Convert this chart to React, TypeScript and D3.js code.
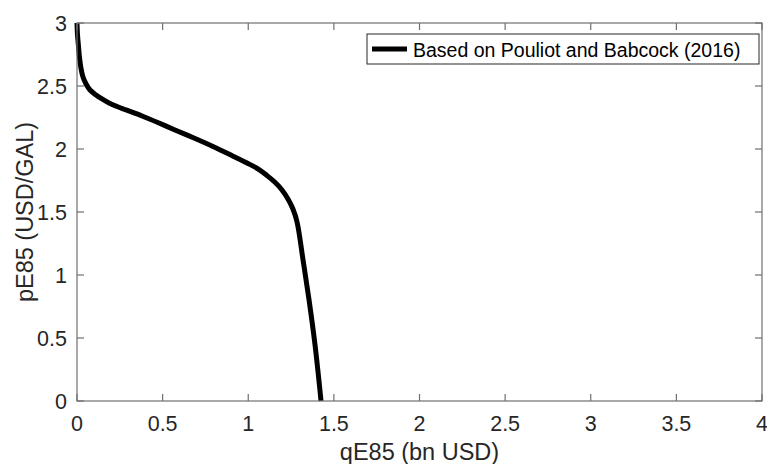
import React from "react";
import * as d3 from "d3";

const priceValues = [3.0, 2.905, 2.825, 2.746, 2.643, 2.571, 2.516, 2.468, 2.429, 2.397, 2.365, 2.337, 2.31, 2.262, 2.206, 2.151, 2.087, 2.02, 1.956, 1.889, 1.837, 1.79, 1.736, 1.675, 1.603, 1.524, 1.421, 1.119, 0.802, 0.444, 0.0];
const quantityValues = [0.0, 0.003, 0.008, 0.013, 0.023, 0.035, 0.053, 0.076, 0.111, 0.146, 0.187, 0.234, 0.286, 0.38, 0.479, 0.572, 0.683, 0.794, 0.893, 0.993, 1.063, 1.109, 1.156, 1.197, 1.232, 1.261, 1.285, 1.32, 1.355, 1.39, 1.425];
const xTicks = [0, 0.5, 1, 1.5, 2, 2.5, 3, 3.5, 4];
const yTicks = [0, 0.5, 1, 1.5, 2, 2.5, 3];
const seriesName = "Based on Pouliot and Babcock (2016)";

const W = 767, H = 464;
const M = { left: 77, right: 762, top: 23, bottom: 401 };
const FONT = "'Liberation Sans', Arial, Helvetica, sans-serif";

export default function App() {
  const x = d3.scaleLinear().domain([0, 4]).range([M.left, M.right]);
  const y = d3.scaleLinear().domain([0, 3]).range([M.bottom, M.top]);
  const pts: [number, number][] = quantityValues.map((q, i) => [q, priceValues[i]]);
  const line = d3.line<[number, number]>().x(d => x(d[0])).y(d => y(d[1])).curve(d3.curveCatmullRom.alpha(0.5));
  const axisColor = "#707070";
  const textColor = "#262626";
  const tl = 7;
  return (
    <svg width={W} height={H} style={{ position: "absolute", left: 0, top: 0, background: "#fff" }} fontFamily={FONT}>
      <rect x={0} y={0} width={W} height={H} fill="#fff" />
      <path d={line(pts) || ""} fill="none" stroke="#000" strokeWidth={5} strokeLinejoin="round" />
      <rect x={M.left} y={M.top} width={M.right - M.left} height={M.bottom - M.top} fill="none" stroke={axisColor} strokeWidth={1.2} />
      {xTicks.map(t => (
        <g key={"x" + t}>
          <line x1={x(t)} x2={x(t)} y1={M.bottom} y2={M.bottom - tl} stroke={axisColor} strokeWidth={1.2} />
          <line x1={x(t)} x2={x(t)} y1={M.top} y2={M.top + tl} stroke={axisColor} strokeWidth={1.2} />
          <text x={x(t)} y={431} textAnchor="middle" fontSize={21.5} fill={textColor}>{t}</text>
        </g>
      ))}
      {yTicks.map(t => (
        <g key={"y" + t}>
          <line x1={M.left} x2={M.left + tl} y1={y(t)} y2={y(t)} stroke={axisColor} strokeWidth={1.2} />
          <line x1={M.right} x2={M.right - tl} y1={y(t)} y2={y(t)} stroke={axisColor} strokeWidth={1.2} />
          <text x={67} y={y(t)} dy="0.36em" textAnchor="end" fontSize={21.5} fill={textColor}>{t}</text>
        </g>
      ))}
      <text x={(M.left + M.right) / 2} y={460} textAnchor="middle" fontSize={23.5} fill={textColor}>qE85 (bn USD)</text>
      <text transform={`translate(33, ${(M.top + M.bottom) / 2}) rotate(-90)`} textAnchor="middle" fontSize={23.5} fill={textColor}>pE85 (USD/GAL)</text>
      <rect x={367} y={34} width={392} height={30} fill="#fff" stroke={textColor} strokeWidth={1} />
      <line x1={372} x2={407} y1={49} y2={49} stroke="#000" strokeWidth={5} />
      <text x={413} y={56.5} fontSize={19.5} fill="#000">{seriesName}</text>
    </svg>
  );
}
